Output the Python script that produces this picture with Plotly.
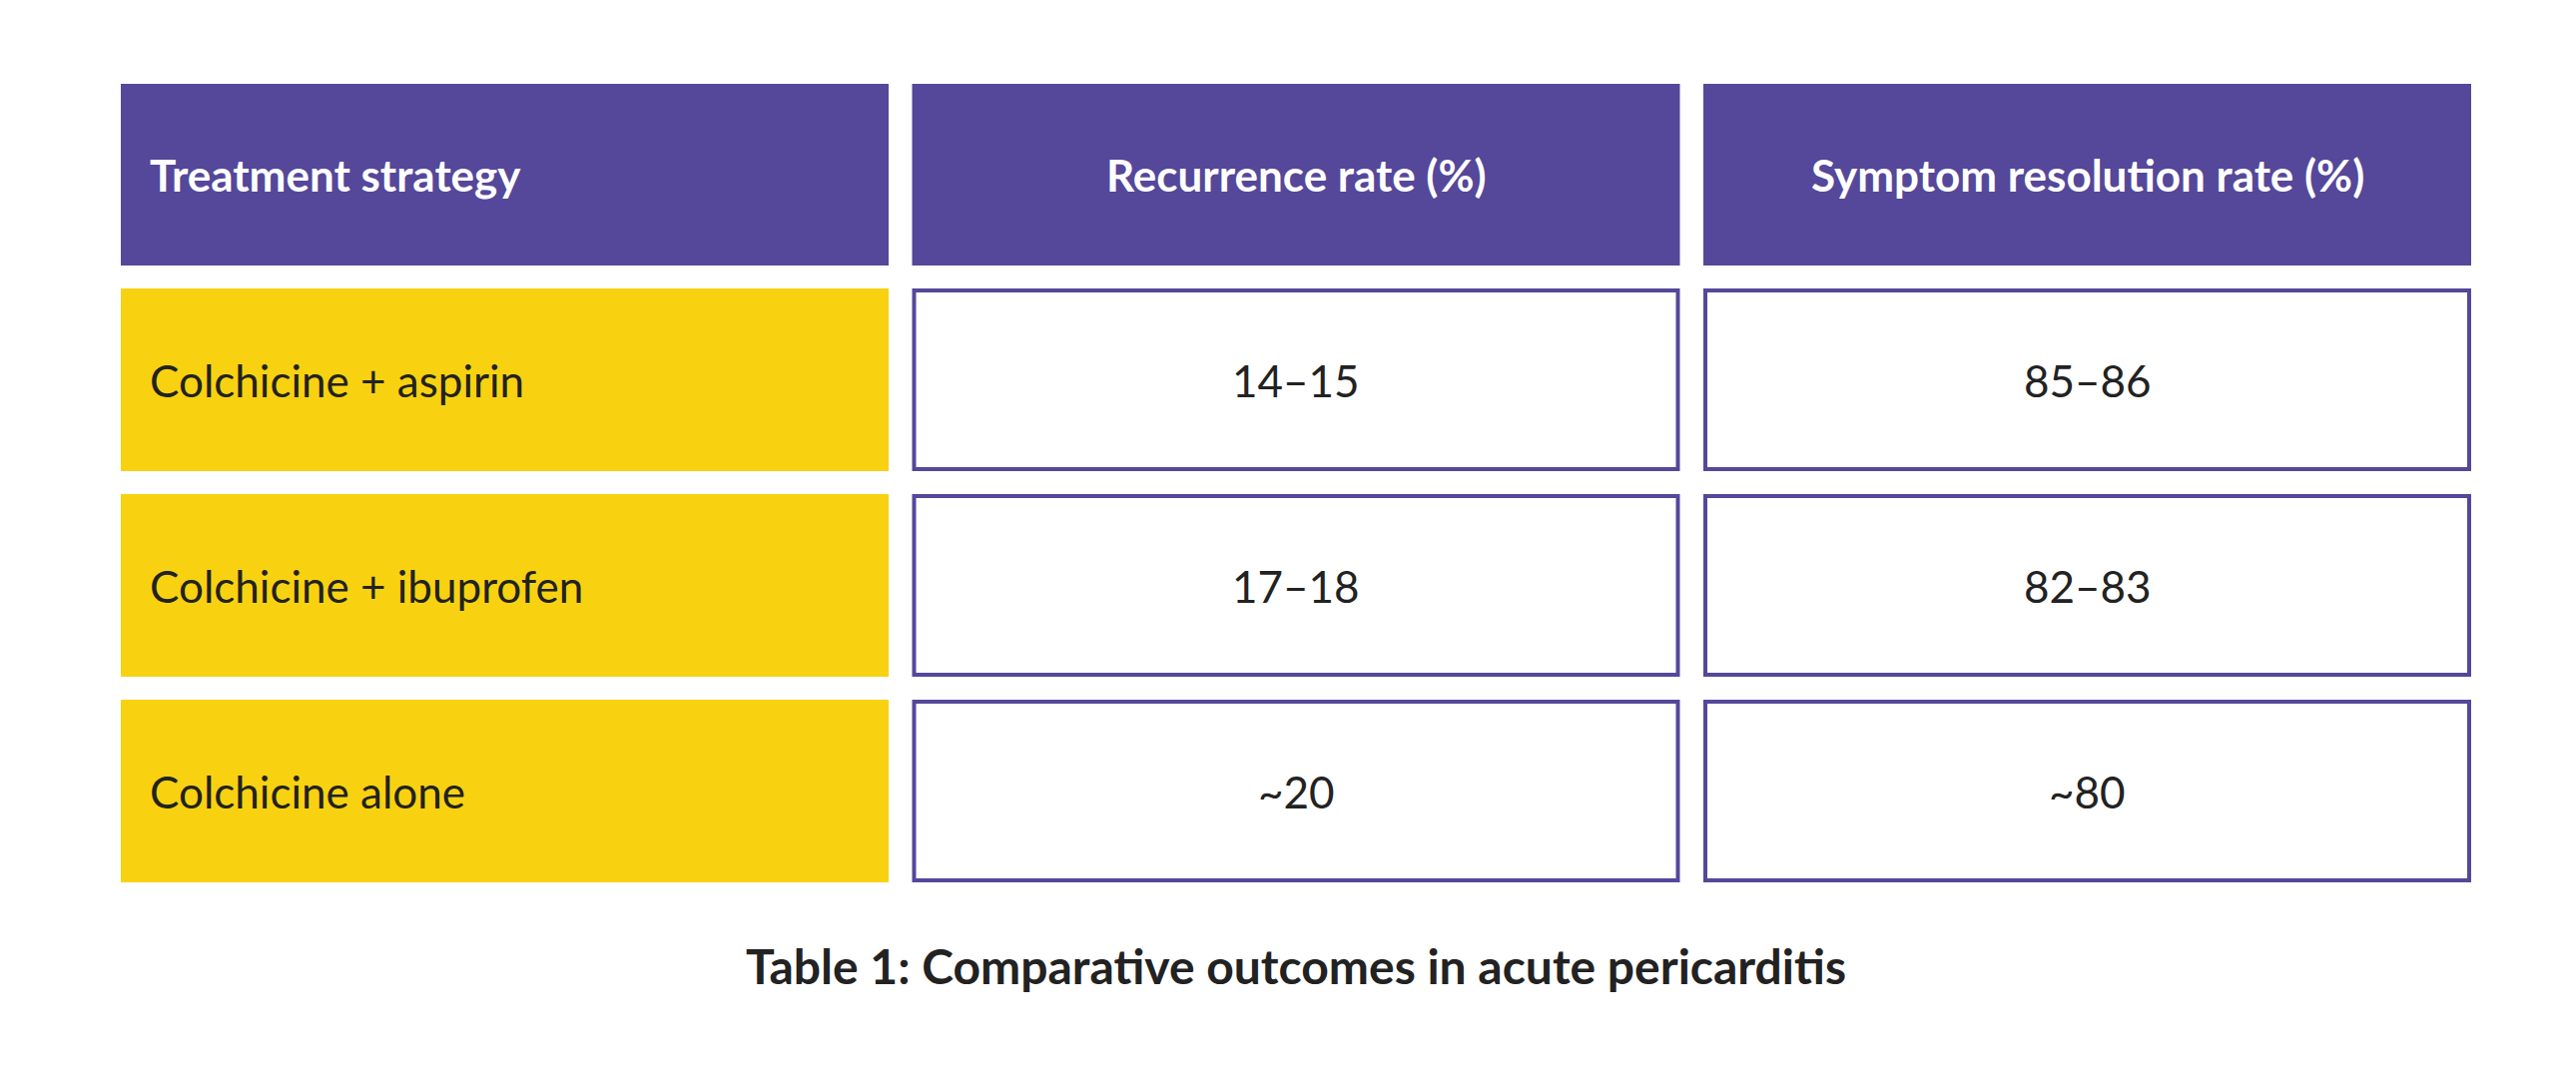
import plotly.graph_objects as go

headers = ["Treatment strategy", "Recurrence rate (%)", "Symptom resolution rate (%)"]
strategies = ["Colchicine + aspirin", "Colchicine + ibuprofen", "Colchicine alone"]
recurrence = ["14–15", "17–18", "~20"]
resolution = ["85–86", "82–83", "~80"]
caption = "Table 1: Comparative outcomes in acute pericarditis"

PURPLE = "#55479A"
YELLOW = "#F8D210"
FONT = "Lato"

W, H = 2580, 1069
col_x0, col_step, col_w = 113, 792.5, 769
head_y0, head_h = 76, 182
row_y0, row_step, row_h = 281, 206, 183

fig = go.Figure()
shapes = []

# header cells
for i, h in enumerate(headers):
    x0 = col_x0 + i * col_step
    shapes.append(dict(type="rect", x0=x0, x1=x0 + col_w, y0=head_y0, y1=head_y0 + head_h,
                       fillcolor=PURPLE, line=dict(width=0), layer="below"))
    fig.add_annotation(x=x0 + 27 if i == 0 else x0 + col_w / 2, y=head_y0 + head_h / 2,
                       text=f"<b>{h}</b>", showarrow=False,
                       xanchor="left" if i == 0 else "center",
                       font=dict(family=FONT, size=44, color="white"))

# body cells
columns = [strategies, recurrence, resolution]
for i, col in enumerate(columns):
    x0 = col_x0 + i * col_step
    for j, val in enumerate(col):
        y0 = row_y0 + j * row_step
        if i == 0:
            shapes.append(dict(type="rect", x0=x0, x1=x0 + col_w, y0=y0, y1=y0 + row_h,
                               fillcolor=YELLOW, line=dict(width=0), layer="below"))
        else:
            shapes.append(dict(type="rect", x0=x0 + 2, x1=x0 + col_w - 2, y0=y0 + 2, y1=y0 + row_h - 2,
                               fillcolor="white", line=dict(color=PURPLE, width=4), layer="below"))
        fig.add_annotation(x=x0 + 27 if i == 0 else x0 + col_w / 2, y=y0 + row_h / 2,
                           text=val, showarrow=False,
                           xanchor="left" if i == 0 else "center",
                           font=dict(family=FONT, size=44, color="#222222"))

fig.add_annotation(x=W / 2, y=959, text=f"<b>{caption}</b>", showarrow=False,
                   font=dict(family=FONT, size=48, color="#222222"))

fig.update_layout(
    width=W, height=H, margin=dict(l=0, r=0, t=0, b=0),
    paper_bgcolor="white", plot_bgcolor="white", shapes=shapes,
    xaxis=dict(range=[0, W], visible=False, fixedrange=True),
    yaxis=dict(range=[H, 0], visible=False, fixedrange=True),
    showlegend=False,
)
fig.write_html("out.html", config={"displayModeBar": False})
